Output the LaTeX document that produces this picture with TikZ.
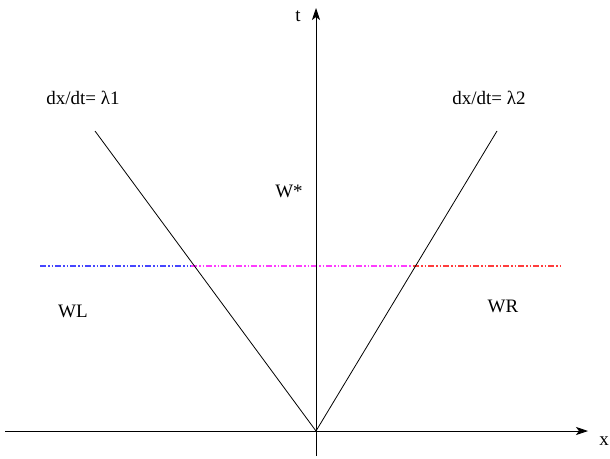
\documentclass[tikz,border=0pt]{standalone}
\usepackage{fontspec}
\setmainfont{Liberation Serif}
\usetikzlibrary{arrows.meta}
\begin{document}
\begin{tikzpicture}[x=1pt,y=-1pt,
  axis/.style={line width=0.8pt,-{Stealth[length=12pt,width=8pt,inset=3pt]}},
  charline/.style={line width=0.8pt},
  dashdd/.style={line width=1.2pt,dash pattern=on 6pt off 2pt on 1.5pt off 2pt on 1.5pt off 2pt},
  lbl/.style={font=\fontsize{19}{22}\selectfont,inner sep=0pt}]
\useasboundingbox (0,0) rectangle (610,458);
\coordinate (o) at (316,431);
\coordinate (xs) at (5,431);
\coordinate (xe) at (588,431);
\coordinate (ts) at (316,456);
\coordinate (te) at (316,8);
\coordinate (l1) at (95,131);
\coordinate (l2) at (497,131);
\coordinate (dl) at (40,266);
\coordinate (dm1) at (191,266);
\coordinate (dm2) at (413,266);
\coordinate (dr) at (562,266);
\draw[dashdd,color={rgb,255:red,70;green,70;blue,255}] (dl) -- (dm1);
\draw[dashdd,color={rgb,255:red,255;green,60;blue,255}] (dm1) -- (dm2);
\draw[dashdd,color={rgb,255:red,255;green,60;blue,60}] (dm2) -- (dr);
\draw[axis] (xs) -- (xe);
\draw[axis] (ts) -- (te);
\draw[charline] (o) -- (l1);
\draw[charline] (o) -- (l2);
\node[lbl] (tl) at (298,16) {t};
\node[lbl] (xl) at (604,441) {x};
\node[lbl] (ws) at (289,191) {W*};
\node[lbl] (wl) at (73,311) {WL};
\node[lbl] (wr) at (503,306) {WR};
\node[lbl] (c1) at (83,98) {dx/dt= λ1};
\node[lbl] (c2) at (489,98) {dx/dt= λ2};
\end{tikzpicture}
\end{document}
